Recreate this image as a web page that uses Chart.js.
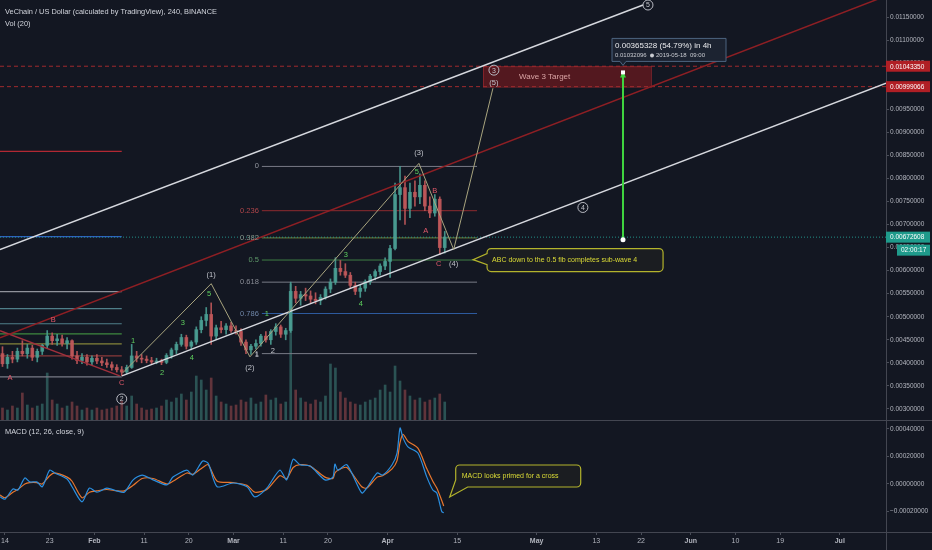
<!DOCTYPE html>
<html>
<head>
<meta charset="utf-8">
<title>VET/USD 240</title>
<script src="https://cdn.jsdelivr.net/npm/chart.js@4.4.1/dist/chart.umd.min.js"></script>
<style>
  html, body { margin: 0; padding: 0; background: #131722; }
  #wrap { position: relative; width: 932px; height: 550px; overflow: hidden; background: #131722; }
  canvas { position: absolute; left: 0; }
</style>
</head>
<body>
<div id="wrap">
  <canvas id="priceChart" style="top:0;width:932px;height:420px" width="932" height="420"></canvas>
  <canvas id="macdChart" style="top:420px;width:932px;height:130px" width="932" height="130"></canvas>
</div>
<script>
// time axis in days of 2019 (0 = Jan 1)
const xMin = 12, xMax = 190.3
const timeTickDays = [13, 22, 31, 41, 50, 59, 69, 78, 90, 104, 120, 132, 141, 151, 160, 169, 181]
const timeTickLabels = ["14", "23", "Feb", "11", "20", "Mar", "11", "20", "Apr", "15", "May", "13", "22", "Jun", "10", "19", "Jul"]
const monthLabels = ["Feb", "Mar", "Apr", "May", "Jun", "Jul"]

const priceTicks = [0.003, 0.0035, 0.004, 0.0045, 0.005, 0.0055, 0.006, 0.0065, 0.007, 0.0075, 0.008, 0.0085, 0.009, 0.0095, 0.010, 0.0105, 0.011, 0.0115]
const macdTicks = [-0.0002, 0, 0.0002, 0.0004]

// daily candles
const candleDays = [12,13,14,15,16,17,18,19,20,21, 22,23,24,25,26,27,28,29,30,31, 32,33,34,35,36,37,38,39,40,41,
  42,43,44,45,46,47,48,49,50,51, 52,53,54,55,56,57,58,59,60,61, 62,63,64,65,66,67,68,69,70,71,
  72,73,74,75,76,77,78,79,80,81, 82,83,84,85,86,87,88,89,90,91, 92,93,94,95,96,97,98,99,100,101]
const opens = [0.00420,0.00398,0.00412,0.00408,0.00425,0.00420,0.00432,0.00412,0.00425,0.00438,
  0.00458,0.00448,0.00452,0.00442,0.00448,0.00415,0.00405,0.00412,0.00402,0.00410,
  0.00404,0.00400,0.00396,0.00390,0.00385,0.00380,0.00390,0.00415,0.00410,0.00408,
  0.00405,0.00402,0.00404,0.00401,0.00416,0.00428,0.00440,0.00455,0.00436,0.00445,
  0.00472,0.00492,0.00505,0.00458,0.00476,0.00472,0.00480,0.00470,0.00468,0.00445,
  0.00428,0.00436,0.00442,0.00458,0.00450,0.00468,0.00478,0.00462,0.00470,0.00555,
  0.00540,0.00548,0.00545,0.00538,0.00535,0.00542,0.00560,0.00575,0.00605,0.00598,
  0.00590,0.00568,0.00555,0.00562,0.00576,0.00588,0.00598,0.00610,0.00620,0.00648,
  0.00765,0.00780,0.00735,0.00770,0.00760,0.00785,0.00740,0.00725,0.00755,0.00650]
const highs = [0.00435,0.00418,0.00425,0.00432,0.00448,0.00440,0.00438,0.00430,0.00440,0.00470,
  0.00465,0.00462,0.00460,0.00455,0.00450,0.00425,0.00420,0.00418,0.00415,0.00418,
  0.00412,0.00408,0.00402,0.00396,0.00392,0.00395,0.00440,0.00425,0.00418,0.00415,
  0.00412,0.00410,0.00408,0.00420,0.00432,0.00445,0.00462,0.00460,0.00448,0.00478,
  0.00500,0.00520,0.00530,0.00482,0.00490,0.00485,0.00488,0.00480,0.00474,0.00450,
  0.00440,0.00450,0.00462,0.00468,0.00472,0.00485,0.00482,0.00475,0.00575,0.00566,
  0.00555,0.00562,0.00556,0.00552,0.00548,0.00565,0.00582,0.00628,0.00622,0.00615,
  0.00596,0.00575,0.00568,0.00580,0.00592,0.00602,0.00615,0.00628,0.00655,0.00790,
  0.00826,0.00805,0.00790,0.00795,0.00810,0.00795,0.00760,0.00765,0.00760,0.00685]
const lows = [0.00392,0.00388,0.00400,0.00402,0.00415,0.00410,0.00405,0.00402,0.00418,0.00432,
  0.00440,0.00438,0.00436,0.00430,0.00408,0.00398,0.00398,0.00395,0.00396,0.00398,
  0.00394,0.00390,0.00384,0.00380,0.00372,0.00376,0.00388,0.00402,0.00400,0.00400,
  0.00398,0.00398,0.00396,0.00398,0.00410,0.00420,0.00436,0.00430,0.00428,0.00440,
  0.00465,0.00480,0.00440,0.00450,0.00465,0.00462,0.00466,0.00462,0.00438,0.00420,
  0.00418,0.00430,0.00436,0.00445,0.00440,0.00460,0.00455,0.00450,0.00466,0.00530,
  0.00525,0.00535,0.00530,0.00528,0.00526,0.00538,0.00552,0.00570,0.00590,0.00585,
  0.00562,0.00548,0.00542,0.00555,0.00570,0.00580,0.00590,0.00602,0.00585,0.00645,
  0.00710,0.00700,0.00715,0.00740,0.00745,0.00730,0.00715,0.00718,0.00635,0.00638]
const closes = [0.00398,0.00412,0.00408,0.00425,0.00420,0.00432,0.00412,0.00425,0.00438,0.00458,
  0.00448,0.00452,0.00442,0.00448,0.00415,0.00405,0.00412,0.00402,0.00410,0.00404,
  0.00400,0.00396,0.00390,0.00385,0.00380,0.00390,0.00415,0.00410,0.00408,0.00405,
  0.00402,0.00404,0.00401,0.00416,0.00428,0.00440,0.00455,0.00436,0.00445,0.00472,
  0.00492,0.00505,0.00458,0.00476,0.00472,0.00480,0.00470,0.00468,0.00445,0.00428,
  0.00436,0.00442,0.00458,0.00450,0.00468,0.00478,0.00462,0.00470,0.00555,0.00540,
  0.00548,0.00545,0.00538,0.00535,0.00542,0.00560,0.00575,0.00605,0.00598,0.00590,
  0.00568,0.00555,0.00562,0.00576,0.00588,0.00598,0.00610,0.00620,0.00648,0.00765,
  0.00780,0.00735,0.00770,0.00760,0.00785,0.00740,0.00725,0.00755,0.00650,0.00673]
// volume, millions of VET per day
const volumes = [18,15,21,18,40.5,22.5,18,21,24,70.5, 30,24,18,21,27,21,15,18,15,18,
  15,16.5,18,21,28.5,21,36,24,18,15, 16.5,18,21,30,27,33,39,30,42,66,
  60,45,63,36,27,24,21,22.5,30,27, 33,24,27,37.5,30,33,24,27,204,45,
  33,27,24,30,27,36,84,78,42,33, 27,24,22.5,27,30,33,45,52.5,42,81,
  58.5,45,36,30,33,27,30,33,39,27]

// MACD (12, 26, close, 9)
const macdDays = [12,13,14.6,15.6,17,18,19.4,20.5,22,23,25.5,26.5,28.5,30,31.5,33.5,35.5,37,38.8,40.6,
  42.8,45.6,46.8,49.6,50.8,52.8,53.9,55.7,58.9,61.7,63.3,65.7,68.3,69.7,71,72.4,74.4,77.4,79,79.4,
  80,81.8,84.8,85.8,87.9,89,90.9,91.9,92.5,93.1,94.1,96.1,97.9,99.1,99.9,100.9,101.3]
const macdLine = [-0.000094,-0.00011,-0.000036,-0.000044,0.000044,0.000015,0.000015,-0.00002,0.0001,0.00008,
  0.000036,-0.00002,-0.00013,-0.00003,-0.00006,-0.00003,-0.00005,-0.00006,0.00003,0.000065,
  0.00003,-0.000007,0.00005,0.0001,0.000065,0.000167,0.00015,-0.00002,0.000007,-0.00002,
  -0.000094,-0.00003,0.0001,0.00003,0.00018,0.00014,0.00013,0.00003,0.00005,0.000145,
  0.0001,0.00014,-0.000065,-0.00003,0.00008,0.000065,0.00014,0.000225,0.000407,0.000335,
  0.00027,0.000225,0.00005,-0.000044,-0.000065,-0.0002,-0.00021]
const signalLine = [-0.00008,-0.0001,-0.00006,-0.00004,0.0,0.00001,0.00001,0.0,0.00006,0.00008,
  0.00005,0.00002,-0.0001,-0.00006,-0.00005,-0.00004,-0.00005,-0.00005,-0.00001,0.00004,
  0.00004,0.0,0.00002,0.00008,0.00007,0.00012,0.00014,0.00002,0.00001,-0.00001,
  -0.00006,-0.00004,0.00006,0.00004,0.00012,0.00014,0.00013,0.00005,0.00004,0.00008,
  0.0001,0.00012,-0.00002,-0.00003,0.00005,0.00006,0.00011,0.00017,0.0003,0.00036,
  0.00031,0.00026,0.00011,0.00002,-0.00003,-0.00012,-0.00016]

// drawings
const fibLabels = ["0", "0.236", "0.382", "0.5", "0.618", "0.786", "1"]
const fibPrices = [0.00826, 0.00730, 0.00671, 0.00623, 0.00575, 0.00507, 0.00420]
const fibColors = ["#787b86", "#8e2b2f", "#6e7f3a", "#3f7f45", "#787b86", "#2d5a9e", "#787b86"]
const fibTextColors = ["#9598a1", "#b0454a", "#8a9488", "#5f9a6a", "#8a8d96", "#6f86a8", "#9598a1"]
const fibStart = 64.7, fibEnd = 108

const leftLevels = [0.008587, 0.006739, 0.005543, 0.005174, 0.004848, 0.004630, 0.004413, 0.004152, 0.003696]
const leftColors = ["#b22833", "#2d5fbf", "#8f929b", "#4f7f8a", "#4f7f8a", "#3f8a3f", "#85853a", "#8a3a3a", "#787b86"]
const leftEnd = 36.5

const upperChannel = [[12, 0.006457], [141.4, 0.011761]]
const lowerChannel = [[36.55, 0.003717], [190.3, 0.010065]]
const redTrend = [[12, 0.004543], [190.3, 0.011957]]
const redAbc = [[12, 0.004696], [36.1, 0.003717]]
const waveDaysPath = [36.7, 54.5, 62.3, 96.3, 103.3, 111.2]
const wavePricesPath = [0.003783, 0.005717, 0.004130, 0.008326, 0.006457, 0.009957]

const targetLevels = [0.01043350, 0.00999066]
const targetBox = [109.2, 143.0]
const lastPrice = 0.00672608
const projDay = 137.375
const projFrom = 0.00666768, projTo = 0.01032096

const waveTexts = ["A","B","C","2","1","2","3","4","5","(1)","(2)","1","2","1","3","4","5","(3)","B","A","C","(4)","4","3","(5)","5"]
const waveKinds = ["r","r","r","o","g","g","g","g","g","w","w","w","w","g","g","g","g","w","r","r","r","w","o","o","w","o"]
const waveDays = [14.0,22.7,36.5,36.5,38.8,44.6,48.8,50.6,54.1,54.5,62.3,63.7,66.9,65.7,81.6,84.6,95.9,96.3,99.5,97.7,100.3,103.3,129.3,111.4,111.4,142.4]
const wavePrices = [0.003674,0.004935,0.003565,0.003217,0.004478,0.003783,0.004870,0.004109,0.005500,0.005913,0.003891,0.004174,0.004261,0.005065,0.006348,0.005283,0.008130,0.008543,0.007739,0.006870,0.006152,0.006152,0.007370,0.010348,0.010065,0.011761]
const kindColors = { r: "#e0596a", g: "#5fd05f", w: "#c3c5cc", o: "#c3c5cc" }

const note1 = "ABC down to the 0.5 fib completes sub-wave 4"
const note1Tip = [107.2, 0.006239]
const note2 = "MACD looks primed for a cross"
const note2Tip = [102.5, -0.0000945]

const FONT = '"Liberation Sans", Arial, sans-serif'
const UP = "#4a9d92", DOWN = "#c0585a"

function txt(ctx, s, x, y, color, size, align, weight) {
  ctx.save()
  ctx.font = (weight || "normal") + " " + size + "px " + FONT
  ctx.fillStyle = color
  ctx.textAlign = align || "left"
  ctx.textBaseline = "middle"
  ctx.fillText(s, x, y)
  ctx.restore()
}

function seg(pts, color, width, dash, order) {
  return {
    type: "line", data: pts.map(p => ({ x: p[0], y: p[1] })), borderColor: color, borderWidth: width,
    borderDash: dash || [], pointRadius: 0, fill: false, tension: 0, order: order, yAxisID: "y"
  }
}

// callout with a pointer wedge
function callout(ctx, x, y, w, h, tipX, tipY, side) {
  const r = 4
  ctx.beginPath()
  ctx.moveTo(x + r, y)
  ctx.lineTo(x + w - r, y); ctx.arcTo(x + w, y, x + w, y + r, r)
  ctx.lineTo(x + w, y + h - r); ctx.arcTo(x + w, y + h, x + w - r, y + h, r)
  if (side === "left") {
    ctx.lineTo(x + r, y + h); ctx.arcTo(x, y + h, x, y + h - r, r)
    ctx.lineTo(x, tipY + 5); ctx.lineTo(tipX, tipY); ctx.lineTo(x, tipY - 6)
  } else {
    ctx.lineTo(x + 12, y + h); ctx.lineTo(tipX, tipY); ctx.lineTo(x, y + h - 7)
  }
  ctx.lineTo(x, y + r); ctx.arcTo(x, y, x + r, y, r)
  ctx.closePath()
  ctx.fillStyle = "rgba(27,30,34,0.95)"
  ctx.fill()
  ctx.strokeStyle = "#b3b32c"
  ctx.lineWidth = 1.2
  ctx.stroke()
}

Chart.defaults.font.family = FONT

const wickData = candleDays.map((d, i) => ({ x: d + 0.5, y: [lows[i], highs[i]] }))
const bodyData = candleDays.map((d, i) => ({ x: d + 0.5, y: [opens[i], closes[i]] }))
const candleColors = candleDays.map((d, i) => closes[i] >= opens[i] ? "rgba(74,157,146,0.9)" : "rgba(192,88,90,0.9)")
const volColors = candleDays.map((d, i) => closes[i] >= opens[i] ? "rgba(74,157,146,0.45)" : "rgba(192,88,90,0.45)")

const datasets = [
  { type: "bar", data: candleDays.map((d, i) => ({ x: d + 0.5, y: volumes[i] })), yAxisID: "yv",
    backgroundColor: volColors, barThickness: 2, grouped: false, order: 30 },
  { type: "bar", data: wickData, backgroundColor: candleColors, barThickness: 1, grouped: false, order: 11, yAxisID: "y" },
  { type: "bar", data: bodyData, backgroundColor: candleColors, barThickness: 3, grouped: false, order: 10, yAxisID: "y" }
]
fibPrices.forEach((p, i) => datasets.push(seg([[fibStart, p], [fibEnd, p]], fibColors[i], 1, [], 20)))
leftLevels.forEach((p, i) => datasets.push(seg([[xMin, p], [leftEnd, p]], leftColors[i], 1.2, [], 20)))
targetLevels.forEach(p => datasets.push(seg([[xMin, p], [xMax, p]], "#a02a2e", 1, [4, 3], 18)))
datasets.push(seg([[xMin, lastPrice], [xMax, lastPrice]], "rgba(38,166,154,0.85)", 1, [1, 2], 18))
datasets.push(seg(redTrend, "#8e1f24", 1.5, [], 6))
datasets.push(seg(redAbc, "#a0303c", 1.5, [], 6))
datasets.push(seg(upperChannel, "#d6d8de", 1.4, [], 5))
datasets.push(seg(lowerChannel, "#d6d8de", 1.4, [], 5))
datasets.push(seg(waveDaysPath.map((d, i) => [d, wavePricesPath[i]]), "#a9a57f", 1, [], 4))
datasets.push(seg([[projDay, projFrom], [projDay, projTo]], "#3fd43f", 2, [], 1))

const priceOverlay = {
  id: "priceOverlay",
  beforeDatasetsDraw(chart) {
    const { ctx, scales: { x, y } } = chart
    const x1 = x.getPixelForValue(targetBox[0]), x2 = x.getPixelForValue(targetBox[1])
    const y1 = y.getPixelForValue(targetLevels[0]), y2 = y.getPixelForValue(targetLevels[1])
    ctx.save()
    ctx.fillStyle = "rgba(118,24,30,0.65)"
    ctx.fillRect(x1, y1, x2 - x1, y2 - y1)
    ctx.strokeStyle = "rgba(150,40,45,0.7)"
    ctx.strokeRect(x1 + 0.5, y1 + 0.5, x2 - x1, y2 - y1)
    ctx.restore()
  },
  afterDatasetsDraw(chart) {
    const { ctx, scales: { x, y } } = chart
    // target text
    txt(ctx, "Wave 3 Target", x.getPixelForValue(targetBox[0]) + 36, (y.getPixelForValue(targetLevels[0]) + y.getPixelForValue(targetLevels[1])) / 2, "#dba6a6", 8)
    // fib labels
    fibPrices.forEach((p, i) => txt(ctx, fibLabels[i], x.getPixelForValue(fibStart) - 3, y.getPixelForValue(p), fibTextColors[i], 7.5, "right"))
    // wave labels
    waveTexts.forEach((t, i) => {
      const px = x.getPixelForValue(waveDays[i]), py = y.getPixelForValue(wavePrices[i])
      if (waveKinds[i] === "o") {
        ctx.save()
        ctx.beginPath(); ctx.arc(px, py, 5, 0, Math.PI * 2)
        ctx.strokeStyle = "#b8bac2"; ctx.lineWidth = 1; ctx.stroke()
        ctx.restore()
        txt(ctx, t, px, py + 0.5, kindColors.o, 7, "center")
      } else {
        txt(ctx, t, px, py, kindColors[waveKinds[i]], 7.5, "center")
      }
    })
    // projection arrow ends
    const ax = x.getPixelForValue(projDay), ayTop = y.getPixelForValue(projTo), ayBot = y.getPixelForValue(projFrom)
    ctx.save()
    ctx.fillStyle = "#3fd43f"
    ctx.beginPath(); ctx.moveTo(ax, ayTop); ctx.lineTo(ax - 3, ayTop + 6); ctx.lineTo(ax + 3, ayTop + 6); ctx.closePath(); ctx.fill()
    ctx.fillStyle = "#ffffff"
    ctx.fillRect(ax - 2, ayTop - 1, 4, 4)
    ctx.beginPath(); ctx.arc(ax, ayBot, 2.5, 0, Math.PI * 2); ctx.fill()
    // measure tooltip
    const bx = ax - 11, by = ayTop - 33
    ctx.fillStyle = "#1c2331"; ctx.strokeStyle = "#4d6580"; ctx.lineWidth = 1
    ctx.beginPath()
    ctx.moveTo(bx + 2, by); ctx.lineTo(bx + 114, by); ctx.lineTo(bx + 114, by + 23); ctx.lineTo(ax + 3, by + 23)
    ctx.lineTo(ax, by + 27); ctx.lineTo(ax - 3, by + 23); ctx.lineTo(bx, by + 23); ctx.lineTo(bx, by); ctx.closePath()
    ctx.fill(); ctx.stroke()
    ctx.restore()
    txt(ctx, "0.00365328 (54.79%) in 4h", bx + 3, by + 7, "#e8e9ec", 8)
    txt(ctx, "0.01032096", bx + 3, by + 17, "#c9cbd1", 6)
    ctx.save(); ctx.fillStyle = "#c9cbd1"; ctx.beginPath(); ctx.arc(bx + 40, by + 17, 2, 0, Math.PI * 2); ctx.fill(); ctx.restore()
    txt(ctx, "2019-05-18  09:00", bx + 44, by + 17, "#c9cbd1", 6)
    // callout
    const tx = x.getPixelForValue(note1Tip[0]), ty = y.getPixelForValue(note1Tip[1])
    ctx.save(); callout(ctx, tx + 14, ty - 11, 176, 23, tx, ty, "left"); ctx.restore()
    txt(ctx, note1, tx + 19, ty + 0.5, "#dcdc36", 7)
  },
  afterDraw(chart) {
    const { ctx, scales: { y } } = chart
    txt(ctx, "VeChain / US Dollar (calculated by TradingView), 240, BINANCE", 5, 12, "#d1d4dc", 7.4)
    txt(ctx, "Vol (20)", 5, 24, "#d1d4dc", 7.4)
    const tag = (text, yc, bg, x0, w) => {
      ctx.save(); ctx.fillStyle = bg; ctx.fillRect(x0, yc - 5.5, w, 11); ctx.restore()
      txt(ctx, text, x0 + 4, yc + 0.5, "#ffffff", 6.5)
    }
    tag("0.01043350", y.getPixelForValue(targetLevels[0]), "#b01f25", 886, 44)
    tag("0.00999066", y.getPixelForValue(targetLevels[1]), "#b01f25", 886, 44)
    tag("0.00672608", y.getPixelForValue(lastPrice), "#1f9a8b", 886, 44)
    tag("02:00:17", y.getPixelForValue(lastPrice) + 13, "#1f9a8b", 897, 33)
  }
}

new Chart(document.getElementById("priceChart"), {
  type: "line",
  data: { datasets: datasets },
  options: {
    responsive: false, animation: false, layout: { padding: 0 },
    plugins: { legend: { display: false }, tooltip: { enabled: false } },
    scales: {
      x: { type: "linear", min: xMin, max: xMax, display: false, offset: false, grid: { offset: false } },
      y: {
        type: "linear", position: "right", min: 0.00276, max: 0.01187, beginAtZero: false,
        afterBuildTicks: s => { s.ticks = priceTicks.map(v => ({ value: v })) },
        afterFit: s => { s.width = 46; s.paddingTop = 0; s.paddingBottom = 0 },
        ticks: { color: "#b2b5be", font: { size: 6.5 }, padding: 1, callback: v => v.toFixed(8) },
        grid: { drawOnChartArea: false, color: "#4a4e59", tickLength: 3 },
        border: { color: "#434651" }
      },
      yv: { type: "linear", display: false, min: 0, max: 630, beginAtZero: true }
    }
  },
  plugins: [priceOverlay]
})

const macdOverlay = {
  id: "macdOverlay",
  afterDraw(chart) {
    const { ctx, scales: { x, y } } = chart
    ctx.save()
    ctx.strokeStyle = "#434651"; ctx.lineWidth = 1
    ctx.beginPath()
    ctx.moveTo(0, 0.5); ctx.lineTo(932, 0.5)
    ctx.moveTo(886.5, 0); ctx.lineTo(886.5, 130)
    ctx.moveTo(0, chart.chartArea.bottom + 0.5); ctx.lineTo(932, chart.chartArea.bottom + 0.5)
    ctx.stroke()
    ctx.restore()
    txt(ctx, "MACD (12, 26, close, 9)", 5, 12, "#d1d4dc", 7.4)
    const tx = x.getPixelForValue(note2Tip[0]), ty = y.getPixelForValue(note2Tip[1])
    ctx.save(); callout(ctx, tx + 6, ty - 32, 125, 22, tx, ty, "bottom"); ctx.restore()
    txt(ctx, note2, tx + 12, ty - 21, "#dcdc36", 7)
  }
}

new Chart(document.getElementById("macdChart"), {
  type: "line",
  data: {
    datasets: [
      { data: macdDays.map((d, i) => ({ x: d, y: macdLine[i] })), borderColor: "#2b8fe0", borderWidth: 1.2, pointRadius: 0, tension: 0.25 },
      { data: macdDays.map((d, i) => ({ x: d, y: signalLine[i] })), borderColor: "#e8772e", borderWidth: 1.2, pointRadius: 0, tension: 0.25 }
    ]
  },
  options: {
    responsive: false, animation: false, layout: { padding: 0 },
    plugins: { legend: { display: false }, tooltip: { enabled: false } },
    scales: {
      x: {
        type: "linear", min: xMin, max: xMax, offset: false,
        afterBuildTicks: s => { s.ticks = timeTickDays.map(v => ({ value: v })) },
        afterFit: s => { s.height = 18; s.paddingLeft = 0; s.paddingRight = 0 },
        ticks: {
          color: "#b2b5be", padding: 2, autoSkip: false, maxRotation: 0,
          callback: (v, i) => timeTickLabels[i],
          font: c => ({ size: 7, weight: monthLabels.includes(timeTickLabels[c.index]) ? "bold" : "normal" })
        },
        grid: { drawOnChartArea: false, color: "#4a4e59", tickLength: 3 },
        border: { color: "#434651" }
      },
      y: {
        type: "linear", position: "right", min: -0.000349, max: 0.000465,
        afterBuildTicks: s => { s.ticks = macdTicks.map(v => ({ value: v })) },
        afterFit: s => { s.width = 46; s.paddingTop = 0; s.paddingBottom = 0 },
        ticks: { color: "#b2b5be", font: { size: 6.5 }, padding: 1, callback: v => (v < 0 ? "\u2212" : "") + Math.abs(v).toFixed(8) },
        grid: { drawOnChartArea: false, color: "#4a4e59", tickLength: 3 },
        border: { color: "#434651" }
      }
    }
  },
  plugins: [macdOverlay]
})
</script>
</body>
</html>
